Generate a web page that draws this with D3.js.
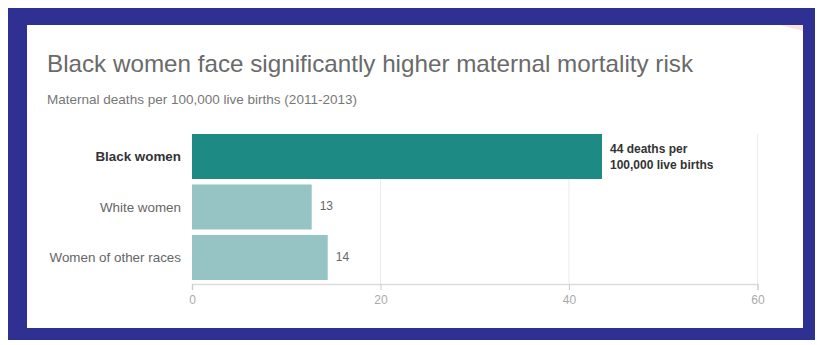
<!DOCTYPE html>
<html>
<head>
<meta charset="utf-8">
<script src="https://cdn.jsdelivr.net/npm/d3@7"></script>
<style>
  body { margin: 0; background: #fff; }
  text { font-family: "Liberation Sans", Arial, sans-serif; }
</style>
</head>
<body>
<div id="chart"></div>
<script>
  // data
  var categories = ['Black women', 'White women', 'Women of other races'];
  var values = [43.5, 12.7, 14.4];
  var valueLabels = [['44 deaths per', '100,000 live births'], ['13'], ['14']];
  var xTicks = [0, 20, 40, 60];

  var W = 817, H = 345;
  var svg = d3.select('#chart').append('svg').attr('width', W).attr('height', H);

  // frame
  svg.append('rect').attr('x', 8).attr('y', 8).attr('width', 807).attr('height', 332).attr('fill', '#2e3192');
  svg.append('rect').attr('x', 27).attr('y', 25).attr('width', 776).attr('height', 303).attr('fill', '#fff');
  svg.append('polygon').attr('points', '780,25 803,25 803,31').attr('fill', '#fde0e0');

  svg.append('text').attr('x', 47).attr('y', 72)
    .attr('font-size', 24).attr('fill', '#6a6a6a').attr('font-family', '"Open Sans", sans-serif')
    .attr('font-weight', 300)
    .attr('textLength', 646).attr('lengthAdjust', 'spacingAndGlyphs')
    .text('Black women face significantly higher maternal mortality risk');

  svg.append('text').attr('x', 47).attr('y', 104)
    .attr('font-size', 13).attr('fill', '#777')
    .attr('textLength', 310).attr('lengthAdjust', 'spacingAndGlyphs')
    .text('Maternal deaths per 100,000 live births (2011-2013)');

  var x = d3.scaleLinear().domain([0, 60]).range([192, 757.5]);
  var y = d3.scaleBand().domain(categories).range([134, 280]).paddingInner(0.109).paddingOuter(0);

  // grid
  svg.append('g').selectAll('line').data(xTicks.slice(1)).join('line')
    .attr('x1', function (d) { return x(d); }).attr('x2', function (d) { return x(d); })
    .attr('y1', 134).attr('y2', 284)
    .attr('stroke', '#ebebeb');

  // bars
  svg.append('g').selectAll('rect').data(values).join('rect')
    .attr('x', x(0))
    .attr('y', function (d, i) { return y(categories[i]); })
    .attr('width', function (d) { return x(d) - x(0); })
    .attr('height', y.bandwidth())
    .attr('fill', function (d, i) { return i === 0 ? '#1e8a84' : '#96c4c4'; });

  // axis
  var axis = svg.append('g').attr('transform', 'translate(0,284)')
    .call(d3.axisBottom(x).tickValues(xTicks).tickSize(6).tickPadding(5));
  axis.select('.domain').attr('stroke', '#dcdcdc').attr('stroke-width', 1.5);
  axis.selectAll('.tick line').attr('stroke', '#ccc');
  axis.selectAll('.tick text').attr('fill', '#aaa').attr('font-size', 12)
    .attr('font-family', '"Liberation Sans Narrow", "Liberation Sans", sans-serif');

  // category labels
  svg.append('g').selectAll('text').data(categories).join('text')
    .attr('x', 181)
    .attr('y', function (d) { return y(d) + y.bandwidth() / 2 + 4.5; })
    .attr('text-anchor', 'end')
    .attr('font-size', 13.4)
    .attr('font-weight', function (d, i) { return i === 0 ? 'bold' : 'normal'; })
    .attr('fill', function (d, i) { return i === 0 ? '#333' : '#666'; })
    .text(function (d) { return d; });

  // value labels
  var vl = svg.append('g').selectAll('text').data(values).join('text')
    .attr('x', function (d) { return x(d) + 8; })
    .attr('y', function (d, i) { return i === 0 ? y(categories[i]) + 19 : y(categories[i]) + y.bandwidth() / 2 + 3; })
    .attr('font-size', 12)
    .attr('font-weight', function (d, i) { return i === 0 ? 'bold' : 'normal'; })
    .attr('fill', function (d, i) { return i === 0 ? '#333' : '#666'; });
  vl.each(function (d, i) {
    var t = d3.select(this);
    valueLabels[i].forEach(function (s, k) {
      t.append('tspan').attr('x', x(d) + 8).attr('dy', k === 0 ? 0 : 16).text(s);
    });
  });
</script>
</body>
</html>
